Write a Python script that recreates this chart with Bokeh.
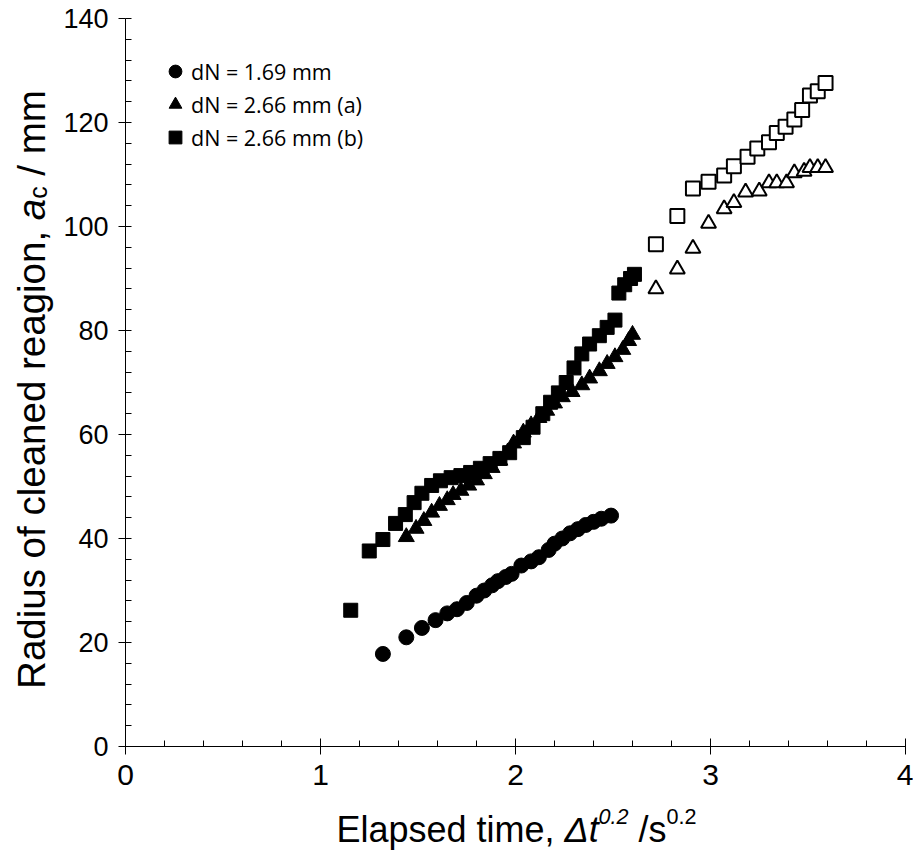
import math
from bokeh.plotting import figure
from bokeh.models import Range1d, SingleIntervalTicker, Label, Legend, LegendItem
from bokeh.embed import file_html
from bokeh.resources import INLINE

# ---------------- data ----------------
circ_x = [1.32, 1.44, 1.52, 1.59, 1.65, 1.70, 1.75, 1.80, 1.84, 1.88, 1.91, 1.95, 1.98,
          2.03, 2.08, 2.12, 2.17, 2.20, 2.24, 2.28, 2.32, 2.36, 2.40, 2.44, 2.49]
circ_y = [17.8, 21.0, 22.8, 24.3, 25.6, 26.4, 27.6, 29.0, 30.0, 31.0, 31.8, 32.6, 33.2,
          34.8, 35.6, 36.4, 37.8, 39.0, 40.0, 41.0, 41.8, 42.6, 43.2, 43.8, 44.4]

tri_x = [1.44, 1.49, 1.53, 1.57, 1.61, 1.65, 1.68, 1.72, 1.76, 1.80, 1.84, 1.88, 1.92, 1.96,
         1.99, 2.04, 2.08, 2.12, 2.16, 2.20, 2.24, 2.29, 2.34, 2.38, 2.43, 2.47, 2.51, 2.55,
         2.58, 2.60]
tri_y = [40.3, 41.9, 43.4, 45.0, 46.3, 47.4, 48.4, 49.2, 50.2, 51.2, 52.4, 53.6, 55.0, 56.6,
         58.3, 60.4, 61.8, 63.2, 64.6, 66.0, 67.2, 68.2, 69.5, 70.8, 72.2, 73.6, 74.9, 76.3,
         78.0, 79.2]
tri_open_x = [2.72, 2.83, 2.91, 2.99, 3.07, 3.12, 3.18, 3.25, 3.30, 3.34, 3.39, 3.43, 3.48,
              3.51, 3.55, 3.59]
tri_open_y = [88.0, 91.8, 95.8, 100.6, 103.4, 104.6, 106.6, 106.8, 108.4, 108.4, 108.4, 110.3,
              110.6, 111.3, 111.3, 111.3]

sq_x = [1.155, 1.25, 1.32, 1.385, 1.435, 1.48, 1.52, 1.57, 1.615, 1.67, 1.72, 1.77, 1.82,
        1.87, 1.92, 1.97, 2.04, 2.09, 2.14, 2.18, 2.22, 2.26, 2.30, 2.34, 2.38, 2.43, 2.47,
        2.51, 2.53, 2.56, 2.59, 2.61]
sq_y = [26.2, 37.6, 39.8, 42.9, 44.6, 46.9, 48.7, 50.2, 51.1, 51.7, 52.1, 52.7, 53.5, 54.4,
        55.4, 56.5, 59.4, 61.4, 64.0, 66.2, 68.0, 70.0, 72.8, 75.5, 77.4, 79.0, 80.6, 82.0,
        87.2, 88.8, 90.0, 90.8]
sq_open_x = [2.72, 2.83, 2.91, 2.99, 3.07, 3.12, 3.19, 3.24, 3.30, 3.34, 3.385, 3.43, 3.47,
             3.51, 3.55, 3.59]
sq_open_y = [96.6, 102.0, 107.3, 108.6, 109.8, 111.6, 113.4, 115.0, 116.2, 118.0, 119.2,
             120.6, 122.4, 125.2, 126.0, 127.6]

legend_labels = ["dN = 1.69 mm", "dN = 2.66 mm (a)", "dN = 2.66 mm (b)"]
x_axis_bounds = (0, 4)
y_axis_bounds = (0, 140)
x_ticks_interval = 1
y_ticks_interval = 20

# ---------------- geometry (pixels) ----------------
W, H = 913, 852
X0_PX, PX_PER_X = 125, 195.0      # canvas x of data x=0, px per x unit
Y0_PX, PX_PER_Y = 746, 5.2        # canvas y of data y=0, px per y unit

x_range = Range1d(-X0_PX / PX_PER_X, (W - X0_PX) / PX_PER_X)
y_range = Range1d((Y0_PX - H) / PX_PER_Y, Y0_PX / PX_PER_Y)

p = figure(width=W, height=H, output_backend="svg", toolbar_location=None,
           x_range=x_range, y_range=y_range,
           min_border_left=0, min_border_right=0, min_border_top=0, min_border_bottom=0)
p.background_fill_color = "white"
p.border_fill_color = "white"
p.outline_line_color = None
p.grid.visible = False

xa = p.xaxis[0]
xa.fixed_location = 0
xa.bounds = x_axis_bounds
xa.ticker = SingleIntervalTicker(interval=x_ticks_interval, num_minor_ticks=5)
xa.axis_line_color = "black"
xa.major_tick_line_color = "black"
xa.minor_tick_line_color = "black"
xa.major_tick_in = 8
xa.major_tick_out = 8
xa.minor_tick_in = 6
xa.minor_tick_out = 0
xa.major_label_text_font = "Liberation Sans"
xa.major_label_text_font_size = "30px"
xa.major_label_text_color = "black"
xa.major_label_standoff = 10

ya = p.yaxis[0]
ya.fixed_location = 0
ya.bounds = y_axis_bounds
ya.ticker = SingleIntervalTicker(interval=y_ticks_interval, num_minor_ticks=5)
ya.axis_line_color = "black"
ya.major_tick_line_color = "black"
ya.minor_tick_line_color = "black"
ya.major_tick_in = 0
ya.major_tick_out = 7
ya.minor_tick_in = 6
ya.minor_tick_out = 0
ya.major_label_text_font = "Liberation Sans"
ya.major_label_text_font_size = "27px"
ya.major_label_text_color = "black"
ya.major_label_standoff = 10

MS = 15
r_c = p.scatter(circ_x, circ_y, marker="circle", size=MS, fill_color="black", line_color="black")
r_t = p.scatter(tri_x, tri_y, marker="triangle", size=MS + 1, fill_color="black", line_color="black")
p.scatter(tri_open_x, tri_open_y, marker="triangle", size=MS, fill_color="white",
          line_color="black", line_width=2)
r_s = p.scatter(sq_x, sq_y, marker="square", size=MS - 1, fill_color="black", line_color="black")
p.scatter(sq_open_x, sq_open_y, marker="square", size=MS - 1, fill_color="white",
          line_color="black", line_width=2)

# legend: glyph box 32px, first glyph centre at canvas (175, 71)
legend = Legend(items=[LegendItem(label=legend_labels[0], renderers=[r_c]),
                       LegendItem(label=legend_labels[1], renderers=[r_t]),
                       LegendItem(label=legend_labels[2], renderers=[r_s])],
                location=(159, H - 55 - 98), margin=0, padding=0, spacing=1,
                glyph_width=32, glyph_height=32, label_height=32, label_standoff=0,
                label_text_font="Open Sans", label_text_font_size="21.5px",
                label_text_color="black",
                border_line_color=None, background_fill_alpha=0)
p.add_layout(legend)

# ---------------- axis titles (pieced together) ----------------
AW = {' ': 278, 'E': 667, 'l': 222, 'a': 556, 'p': 556, 's': 500, 'e': 556, 'd': 556,
      't': 278, 'i': 222, 'm': 833, ',': 278, '\u0394': 668, '/': 278, '0': 556, '.': 278,
      '2': 556, 'R': 722, 'u': 556, 'o': 556, 'f': 278, 'c': 500, 'n': 556, 'r': 333,
      'g': 556}


def tw(s, size):
    return sum(AW.get(ch, 556) for ch in s) / 1000.0 * size


# x-axis title
XF = 36
XS = 0.6 * XF
xpieces = [("Elapsed time,", XF, "normal", 0), (" ", XF, None, 0),
           ("\u0394t", XF, "italic", 0), ("0.2", XS, "italic", 0.36 * XF),
           (" ", XF, None, 0), ("/s", XF, "normal", 0), ("0.2", XS, "normal", 0.36 * XF)]
total = sum(tw(t, s) for t, s, _, _ in xpieces)
off = -total / 2
for t, s, st, rise in xpieces:
    if st is not None:
        p.add_layout(Label(x=(516 - X0_PX) / PX_PER_X, y=(Y0_PX - 829) / PX_PER_Y,
                           x_offset=off, y_offset=rise,
                           text=t, text_font="Liberation Sans", text_font_size=f"{s:.1f}px",
                           text_font_style=st, text_color="black",
                           text_align="left", text_baseline="alphabetic"))
    off += tw(t, s)

# y-axis title (rotated)
YF = 38.5
YS = 0.65 * YF
ypieces = [("Radius of cleaned reagion,", YF, "normal", 0), (" ", YF, None, 0),
           ("a", YF, "italic", 0), ("c", YS, "normal", 0.16 * YF),
           (" ", YF, None, 0), ("/ mm", YF, "normal", 0)]
total = sum(tw(t, s) for t, s, _, _ in ypieces)
off = -total / 2
for t, s, st, drop in ypieces:
    if st is not None:
        p.add_layout(Label(x=(31 - X0_PX) / PX_PER_X, y=(Y0_PX - 389) / PX_PER_Y,
                           x_offset=drop, y_offset=off, text=t, angle=math.pi / 2,
                           text_font="Liberation Sans", text_font_size=f"{s:.1f}px",
                           text_font_style=st, text_color="black",
                           text_align="left", text_baseline="alphabetic"))
    off += tw(t, s)

open("out.html", "w").write(file_html(p, INLINE))
